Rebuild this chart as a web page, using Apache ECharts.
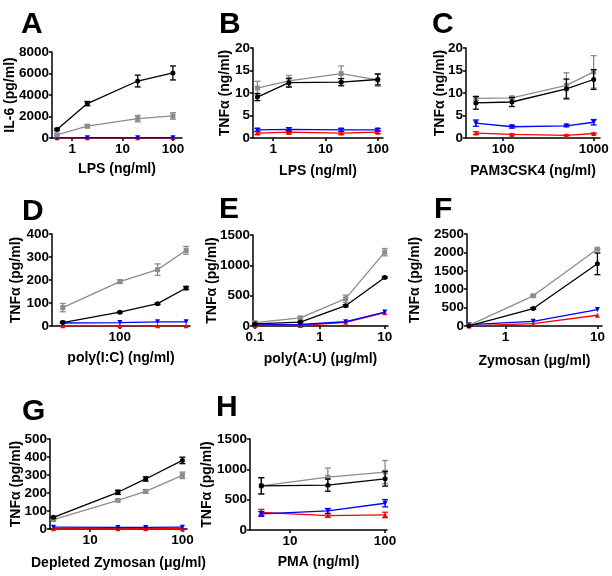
<!DOCTYPE html>
<html><head><meta charset="utf-8">
<script src="https://cdn.jsdelivr.net/npm/echarts@6/dist/echarts.min.js"></script>
<style>html,body{margin:0;padding:0;background:#fff}#c{width:612px;height:576px}</style>
</head><body><div id="c"></div>
<script>
// ---------------- DATA ----------------
// Panel A: IL-6 (pg/ml) vs LPS (ng/ml)
const aDose = [0.5, 2, 20, 100];
const aBlack = [800, 3200, 5300, 6050];   const aBlackErr = [100, 200, 550, 650];
const aGrey  = [300, 1100, 1800, 2050];   const aGreyErr  = [80, 150, 300, 300];
const aBlue  = [30, 30, 30, 30];          const aBlueErr  = [0, 0, 0, 0];
const aRed   = [20, 20, 20, 20];          const aRedErr   = [0, 0, 0, 0];
// Panel B: TNFα (ng/ml) vs LPS (ng/ml)
const bDose = [0.5, 2, 20, 100];
const bBlack = [9.1, 12.3, 12.4, 13.0];   const bBlackErr = [0.8, 1.0, 0.8, 1.2];
const bGrey  = [11.1, 12.7, 14.3, 12.9];  const bGreyErr  = [1.5, 1.2, 1.7, 1.4];
const bBlue  = [1.8, 1.9, 1.8, 1.8];      const bBlueErr  = [0.3, 0.4, 0.3, 0.3];
const bRed   = [1.1, 1.3, 1.1, 1.3];      const bRedErr   = [0.3, 0.4, 0.3, 0.3];
// Panel C: TNFα (ng/ml) vs PAM3CSK4 (ng/ml)
const cDose = [50, 125, 500, 1000];
const cBlack = [7.8, 8.0, 10.9, 13.0];    const cBlackErr = [1.4, 1.0, 2.2, 2.2];
const cGrey  = [8.8, 8.9, 11.7, 14.7];    const cGreyErr  = [0.5, 0.4, 2.8, 3.6];
const cBlue  = [3.3, 2.5, 2.7, 3.5];      const cBlueErr  = [0.7, 0.3, 0.2, 0.6];
const cRed   = [1.1, 0.8, 0.6, 1.0];      const cRedErr   = [0.3, 0.1, 0.1, 0.1];
// Panel D: TNFα (pg/ml) vs poly(I:C) (ng/ml)
const dDose = [25, 100, 250, 500];
const dBlack = [15, 60, 97, 165];         const dBlackErr = [3, 3, 4, 7];
const dGrey  = [80, 193, 245, 329];       const dGreyErr  = [18, 8, 25, 17];
const dBlue  = [13, 15, 18, 18];          const dBlueErr  = [0, 0, 0, 0];
const dRed   = [1, 1, 1, 1];              const dRedErr   = [0, 0, 0, 0];
// Panel E: TNFα (pg/ml) vs poly(A:U) (µg/ml)
const eDose = [0.1, 0.5, 2.5, 10];
const eBlack = [35, 65, 335, 800];        const eBlackErr = [5, 10, 15, 15];
const eGrey  = [55, 135, 450, 1217];      const eGreyErr  = [15, 20, 60, 60];
const eBlue  = [20, 25, 70, 230];         const eBlueErr  = [0, 0, 0, 0];
const eRed   = [5, 10, 60, 220];          const eRedErr   = [0, 0, 0, 0];
// Panel F: TNFα (pg/ml) vs Zymosan (µg/ml)
const fDose = [0.4, 2, 10];
const fBlack = [5, 474, 1690];            const fBlackErr = [0, 20, 295];
const fGrey  = [18, 821, 2090];           const fGreyErr  = [0, 20, 20];
const fBlue  = [36, 128, 447];            const fBlueErr  = [0, 0, 0];
const fRed   = [2, 64, 292];              const fRedErr   = [0, 0, 0];
// Panel G: TNFα (pg/ml) vs Depleted Zymosan (µg/ml)
const gDose = [4, 20, 40, 100];
const gBlack = [65, 204, 278, 381];       const gBlackErr = [5, 12, 12, 18];
const gGrey  = [52, 159, 209, 298];       const gGreyErr  = [4, 6, 10, 18];
const gBlue  = [10, 9, 9, 10];            const gBlueErr  = [0, 0, 0, 0];
const gRed   = [1, 1, 2, 2];              const gRedErr   = [0, 0, 0, 0];
// Panel H: TNFα (pg/ml) vs PMA (ng/ml)
const hDose = [5, 25, 100];
const hBlack = [728, 739, 844];           const hBlackErr = [135, 100, 120];
const hGrey  = [728, 871, 955];           const hGreyErr  = [130, 150, 190];
const hBlue  = [265, 314, 441];           const hBlueErr  = [40, 40, 60];
const hRed   = [290, 237, 248];           const hRedErr   = [50, 30, 45];

// ---------------- LAYOUT ----------------
const FONT = 'Liberation Sans, Arial, sans-serif';
const COL = {black: '#000000', grey: '#8c8c8c', blue: '#0000ff', red: '#ff0000'};

const panels = [
  {letter:'A', lx:16, ly:10, grid:{left:52, top:52, width:130, height:86},
   xmin:-0.4, xmax:2.18, xticks:[0,1,2], xname:'LPS (ng/ml)', xgap:24,
   ymax:8000, yint:2000, yname:'IL-6 (pg/ml)', ygap:35,
   dose:aDose, s:[[aRed,aRedErr],[aBlue,aBlueErr],[aGrey,aGreyErr],[aBlack,aBlackErr]]},
  {letter:'B', lx:214, ly:10, grid:{left:253, top:48, width:130, height:90},
   xmin:-0.385, xmax:2.1, xticks:[0,1,2], xname:'LPS (ng/ml)', xgap:26,
   ymax:20, yint:5, yname:'TNF\u03B1 (ng/ml)', ygap:21,
   dose:bDose, s:[[bRed,bRedErr],[bBlue,bBlueErr],[bGrey,bGreyErr],[bBlack,bBlackErr]]},
  {letter:'C', lx:427, ly:10, grid:{left:466, top:48, width:134, height:90},
   xmin:1.59, xmax:3.07, xticks:[2,3], xname:'PAM3CSK4 (ng/ml)', xgap:26,
   ymax:20, yint:5, yname:'TNF\u03B1 (ng/ml)', ygap:19,
   dose:cDose, s:[[cRed,cRedErr],[cBlue,cBlueErr],[cGrey,cGreyErr],[cBlack,cBlackErr]]},
  {letter:'D', lx:17, ly:197, grid:{left:52, top:234, width:138, height:92},
   xmin:1.284, xmax:2.74, xticks:[2], xname:'poly(I:C) (ng/ml)', xgap:25,
   ymax:400, yint:100, yname:'TNF\u03B1 (pg/ml)', ygap:29,
   dose:dDose, s:[[dRed,dRedErr],[dBlue,dBlueErr],[dGrey,dGreyErr],[dBlack,dBlackErr]]},
  {letter:'E', lx:214, ly:195, grid:{left:253, top:235, width:135, height:91},
   xmin:-1.03, xmax:1.05, xticks:[-1,0,1], xname:'poly(A:U) (\u03BCg/ml)', xgap:26,
   ymax:1500, yint:500, yname:'TNF\u03B1 (pg/ml)', ygap:34,
   dose:eDose, s:[[eRed,eRedErr],[eBlue,eBlueErr],[eGrey,eGreyErr],[eBlack,eBlackErr]]},
  {letter:'F', lx:429, ly:195, grid:{left:467, top:234, width:135, height:92},
   xmin:-0.42, xmax:1.05, xticks:[0,1], xname:'Zymosan (\u03BCg/ml)', xgap:28,
   ymax:2500, yint:500, yname:'TNF\u03B1 (pg/ml)', ygap:45,
   dose:fDose, s:[[fRed,fRedErr],[fBlue,fBlueErr],[fGrey,fGreyErr],[fBlack,fBlackErr]]},
  {letter:'G', lx:17, ly:397, grid:{left:50, top:439, width:137, height:90},
   xmin:0.565, xmax:2.05, xticks:[1,2], xname:'Depleted Zymosan (\u03BCg/ml)', xgap:27,
   ymax:500, yint:100, yname:'TNF\u03B1 (pg/ml)', ygap:27,
   dose:gDose, s:[[gRed,gRedErr],[gBlue,gBlueErr],[gGrey,gGreyErr],[gBlack,gBlackErr]]},
  {letter:'H', lx:211, ly:393, grid:{left:250, top:439, width:137, height:91},
   xmin:0.58, xmax:2.02, xticks:[1,2], xname:'PMA (ng/ml)', xgap:25,
   ymax:1500, yint:500, yname:'TNF\u03B1 (pg/ml)', ygap:36,
   dose:hDose, s:[[hRed,hRedErr],[hBlue,hBlueErr],[hGrey,hGreyErr],[hBlack,hBlackErr]]}
];

const styles = [
  {color: COL.red,   symbol: 'triangle', size: 5, rot: 0},
  {color: COL.blue,  symbol: 'triangle', size: 5, rot: 180},
  {color: COL.grey,  symbol: 'rect',     size: 5, rot: 0},
  {color: COL.black, symbol: 'circle',   size: 5, rot: 0}
];

function fmtLog(v) {
  const n = Math.pow(10, v);
  return String(Math.round(n * 1000) / 1000);
}
function fmtPlain(v) { return String(v); }

function errRender(color) {
  return function (params, api) {
    const x = api.value(0), lo = api.value(1), hi = api.value(2);
    const a = api.coord([x, hi]), b = api.coord([x, lo]);
    const w = 3;
    const st = {stroke: color, lineWidth: 1.3};
    return {type: 'group', children: [
      {type: 'line', shape: {x1: a[0], y1: a[1], x2: b[0], y2: b[1]}, style: st},
      {type: 'line', shape: {x1: a[0] - w, y1: a[1], x2: a[0] + w, y2: a[1]}, style: st},
      {type: 'line', shape: {x1: b[0] - w, y1: b[1], x2: b[0] + w, y2: b[1]}, style: st}
    ]};
  };
}

const grids = [], xAxes = [], yAxes = [], series = [], titles = [];
const axisLineStyle = {color: '#000', width: 1.5};
const labelStyle = {color: '#000', fontSize: 13.5, fontWeight: 'bold', fontFamily: FONT};
const nameStyle = {color: '#000', fontSize: 14, fontWeight: 'bold', fontFamily: FONT};

panels.forEach((p, i) => {
  grids.push(Object.assign({containLabel: false}, p.grid));
  titles.push({text: p.letter, left: p.lx, top: p.ly - 5,
    textStyle: {fontSize: 30, fontWeight: 'bold', color: '#000', fontFamily: FONT}});
  xAxes.push({
    type: 'value', gridIndex: i, min: p.xmin, max: p.xmax,
    axisLine: {show: true, onZero: false, lineStyle: axisLineStyle},
    axisTick: {show: true, inside: false, length: 3, customValues: p.xticks, lineStyle: axisLineStyle},
    axisLabel: Object.assign({show: true, margin: 4, customValues: p.xticks, formatter: fmtLog}, labelStyle),
    splitLine: {show: false},
    name: p.xname, nameLocation: 'middle', nameGap: p.xgap, nameMoveOverlap: false, nameTextStyle: nameStyle
  });
  yAxes.push({
    type: 'value', gridIndex: i, min: 0, max: p.ymax, interval: p.yint,
    axisLine: {show: true, onZero: false, lineStyle: axisLineStyle},
    axisTick: {show: true, inside: false, length: 3, lineStyle: axisLineStyle},
    axisLabel: Object.assign({show: true, margin: 3, formatter: fmtPlain}, labelStyle),
    splitLine: {show: false},
    name: p.yname, nameLocation: 'middle', nameGap: p.ygap, nameMoveOverlap: false, nameTextStyle: nameStyle
  });
  p.s.forEach((pair, k) => {
    const vals = pair[0], errs = pair[1], st = styles[k];
    series.push({
      type: 'line', xAxisIndex: i, yAxisIndex: i,
      data: p.dose.map((d, j) => [Math.log10(d), vals[j]]),
      symbol: st.symbol, symbolSize: st.size, symbolRotate: st.rot, showSymbol: true,
      lineStyle: {color: st.color, width: 1.3}, itemStyle: {color: st.color},
      animation: false, silent: true, z: 2 + k
    });
    const ed = [];
    p.dose.forEach((d, j) => { if (errs[j] > 0) ed.push([Math.log10(d), vals[j] - errs[j], vals[j] + errs[j]]); });
    if (ed.length) {
      series.push({
        type: 'custom', xAxisIndex: i, yAxisIndex: i, coordinateSystem: 'cartesian2d',
        data: ed, encode: {x: 0, y: [1, 2]}, renderItem: errRender(st.color),
        animation: false, silent: true, z: 2 + k
      });
    }
  });
});

const chart = echarts.init(document.getElementById('c'), null, {renderer: 'canvas'});
chart.setOption({
  backgroundColor: '#fff', animation: false,
  title: titles, grid: grids, xAxis: xAxes, yAxis: yAxes, series: series
});
</script></body></html>
